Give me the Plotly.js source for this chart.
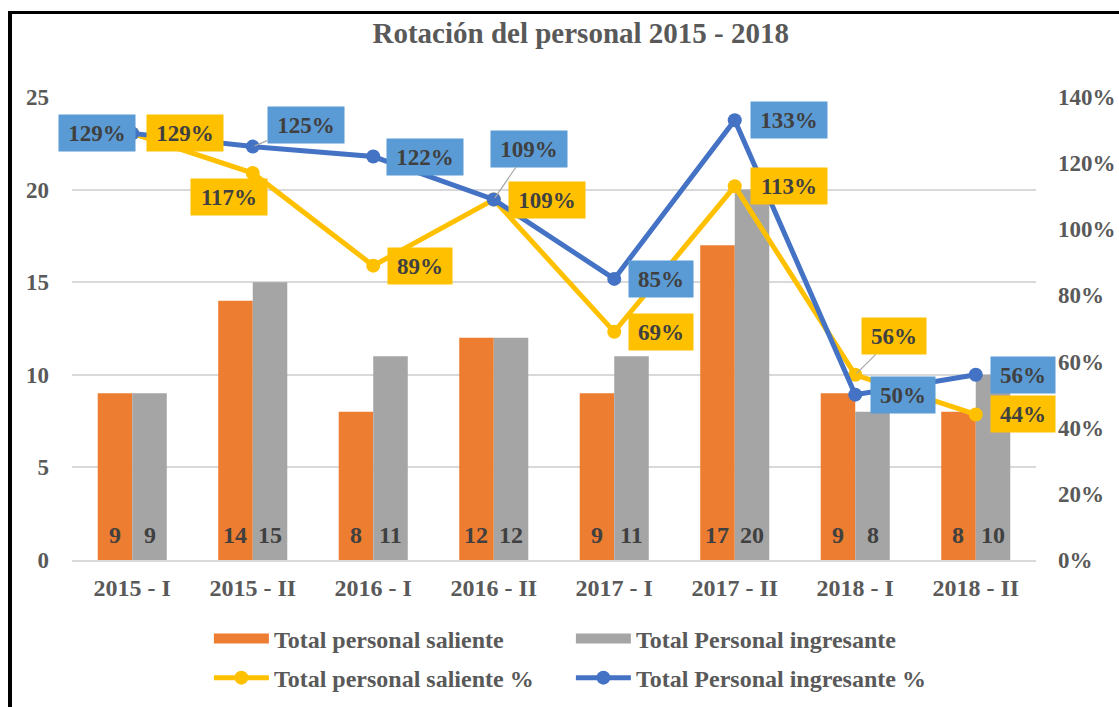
<!DOCTYPE html>
<html>
<head>
<meta charset="utf-8">
<script src="https://cdn.plot.ly/plotly-3.0.1.min.js"></script>
<style>
  html, body { margin: 0; padding: 0; background: #fff; }
  #wrap { position: relative; width: 1119px; height: 707px; overflow: hidden; }
  #chart { width: 1119px; height: 707px; }
  #frame { position: absolute; left: 8px; top: 11px; width: 1200px; height: 800px;
           border-left: 4px solid #000; border-top: 3px solid #000; pointer-events: none; }
</style>
</head>
<body>
<div id="wrap">
  <div id="chart"></div>
  <div id="frame"></div>
</div>
<script>
// ---- data ----
const categories = ['2015 - I', '2015 - II', '2016 - I', '2016 - II', '2017 - I', '2017 - II', '2018 - I', '2018 - II'];
const totalSaliente = [9, 14, 8, 12, 9, 17, 9, 8];
const totalIngresante = [9, 15, 11, 12, 11, 20, 8, 10];
const salientePct = [1.29, 1.17, 0.89, 1.09, 0.69, 1.13, 0.56, 0.44];
const ingresantePct = [1.29, 1.25, 1.22, 1.09, 0.85, 1.33, 0.50, 0.56];
const leftTicks = [0, 5, 10, 15, 20, 25];
const rightTicks = [0, 0.2, 0.4, 0.6, 0.8, 1.0, 1.2, 1.4];

// ---- styling ----
const FONT = 'Liberation Serif, Times New Roman, serif';
const AXIS_COLOR = '#595959';
const LABEL_COLOR = '#404040';
const C_ORANGE = '#ed7d31', C_GRAY = '#a5a5a5', C_YELLOW = '#ffc000', C_BLUE = '#4472c4', C_BLUEBOX = '#5b9bd5';

// label offsets (px) for percentage labels: [xshift, yshift(up +), leader?]
const blueOff = [[-35, 0, 0], [53, 22, 1], [52, 0, 0], [35, 51, 1], [47, 0, 0], [54, 0, 0], [48, 0, 0], [47, 0, 0]];
const yellowOff = [[53, 0, 0], [-24, -24, 0], [47, 0, 0], [53, 0, 0], [47, 0, 0], [54, 0, 0], [39, 39, 1], [47, 0, 0]];

const traces = [
  { type: 'bar', name: 'Total personal saliente', x: categories, y: totalSaliente,
    marker: { color: C_ORANGE }, showlegend: false, legendgroup: 'sal', hoverinfo: 'y' },
  { type: 'bar', name: 'Total Personal ingresante', x: categories, y: totalIngresante,
    marker: { color: C_GRAY }, showlegend: false, legendgroup: 'ing', hoverinfo: 'y' },
  // legend keys for the bar series (wide rectangle keys)
  { type: 'scatter', mode: 'lines', name: 'Total personal saliente', x: [null], y: [null],
    line: { color: C_ORANGE, width: 13 }, legend: 'legend', legendgroup: 'sal', hoverinfo: 'skip' },
  { type: 'scatter', mode: 'lines', name: 'Total Personal ingresante', x: [null], y: [null],
    line: { color: C_GRAY, width: 13 }, legend: 'legend', legendgroup: 'ing', hoverinfo: 'skip' },
  { type: 'scatter', mode: 'lines+markers', name: 'Total personal saliente %', x: categories, y: salientePct,
    yaxis: 'y2', line: { color: C_YELLOW, width: 5 }, marker: { color: C_YELLOW, size: 14 }, legend: 'legend2' },
  { type: 'scatter', mode: 'lines+markers', name: 'Total Personal ingresante %', x: categories, y: ingresantePct,
    yaxis: 'y2', line: { color: C_BLUE, width: 5 }, marker: { color: C_BLUE, size: 14 }, legend: 'legend2' }
];

const annotations = [];
function pctText(v) { return Math.round(v * 100) + '%'; }
function addPctLabels(vals, offs, bg) {
  vals.forEach((v, i) => {
    const t = pctText(v);
    const o = offs[i];
    const a = {
      x: categories[i], y: v, xref: 'x', yref: 'y2', text: '<b>' + t + '</b>',
      font: { family: FONT, size: 23, color: LABEL_COLOR },
      bgcolor: bg, borderpad: 4, width: t.length === 4 ? 68 : 56, height: 28,
      xanchor: 'center', yanchor: 'middle'
    };
    if (o[2]) {
      a.showarrow = true; a.arrowhead = 0; a.arrowwidth = 1.2; a.arrowcolor = '#a6a6a6';
      a.ax = o[0]; a.ay = -o[1]; a.standoff = 2;
    } else {
      a.showarrow = false; a.xshift = o[0]; a.yshift = o[1];
    }
    annotations.push(a);
  });
}
addPctLabels(ingresantePct, blueOff, C_BLUEBOX);
addPctLabels(salientePct, yellowOff, C_YELLOW);

// bar value labels near the base
function addBarLabels(vals, dx) {
  vals.forEach((v, i) => {
    annotations.push({
      x: categories[i], y: 0, xref: 'x', yref: 'y', text: '<b>' + v + '</b>', showarrow: false,
      xshift: dx, yshift: 25, yanchor: 'middle', xanchor: 'center',
      font: { family: FONT, size: 24, color: LABEL_COLOR }
    });
  });
}
addBarLabels(totalSaliente, -17.3);
addBarLabels(totalIngresante, 17.3);

const yTickFont = { family: FONT, size: 23, color: AXIS_COLOR, weight: 'bold' };
const xTickFont = { family: FONT, size: 24, color: AXIS_COLOR, weight: 'bold' };
const legendBase = {
  orientation: 'h', xanchor: 'left', yanchor: 'middle', x: 0.142,
  font: { family: FONT, size: 24, color: AXIS_COLOR, weight: 'bold' },
  entrywidth: 292, entrywidthmode: 'pixels', itemwidth: 55, bgcolor: 'rgba(0,0,0,0)'
};

const layout = {
  width: 1119, height: 707,
  margin: { l: 72, r: 83, t: 97, b: 147, pad: 0, autoexpand: false },
  paper_bgcolor: '#ffffff', plot_bgcolor: '#ffffff',
  title: { text: '<b>Rotación del personal 2015 - 2018</b>', x: 0.519, xanchor: 'center', y: 0.953, yanchor: 'middle',
           font: { family: FONT, size: 29, color: AXIS_COLOR } },
  barmode: 'group', bargap: 0.427, bargroupgap: 0,
  xaxis: { type: 'category', range: [-0.5, categories.length - 0.5], tickfont: xTickFont, showgrid: false, ticks: '',
           showline: true, linecolor: '#d9d9d9', linewidth: 2, ticklabelstandoff: 5, automargin: false },
  yaxis: { range: [0, 25], tickvals: leftTicks, tickfont: yTickFont, showgrid: true, gridcolor: '#d9d9d9',
           gridwidth: 2, zeroline: false, ticks: '', ticklabelstandoff: 22, fixedrange: true, automargin: false },
  yaxis2: { range: [0, 1.4], tickvals: rightTicks, tickformat: '.0%', overlaying: 'y', side: 'right',
            tickfont: yTickFont, showgrid: false, zeroline: false, ticks: '', ticklabelstandoff: 21, automargin: false },
  legend: Object.assign({}, legendBase, { y: -0.1706 }),
  legend2: Object.assign({}, legendBase, { y: -0.255 }),
  annotations: annotations,
  showlegend: true
};

Plotly.newPlot('chart', traces, layout, { displayModeBar: false, staticPlot: true });
</script>
</body>
</html>
